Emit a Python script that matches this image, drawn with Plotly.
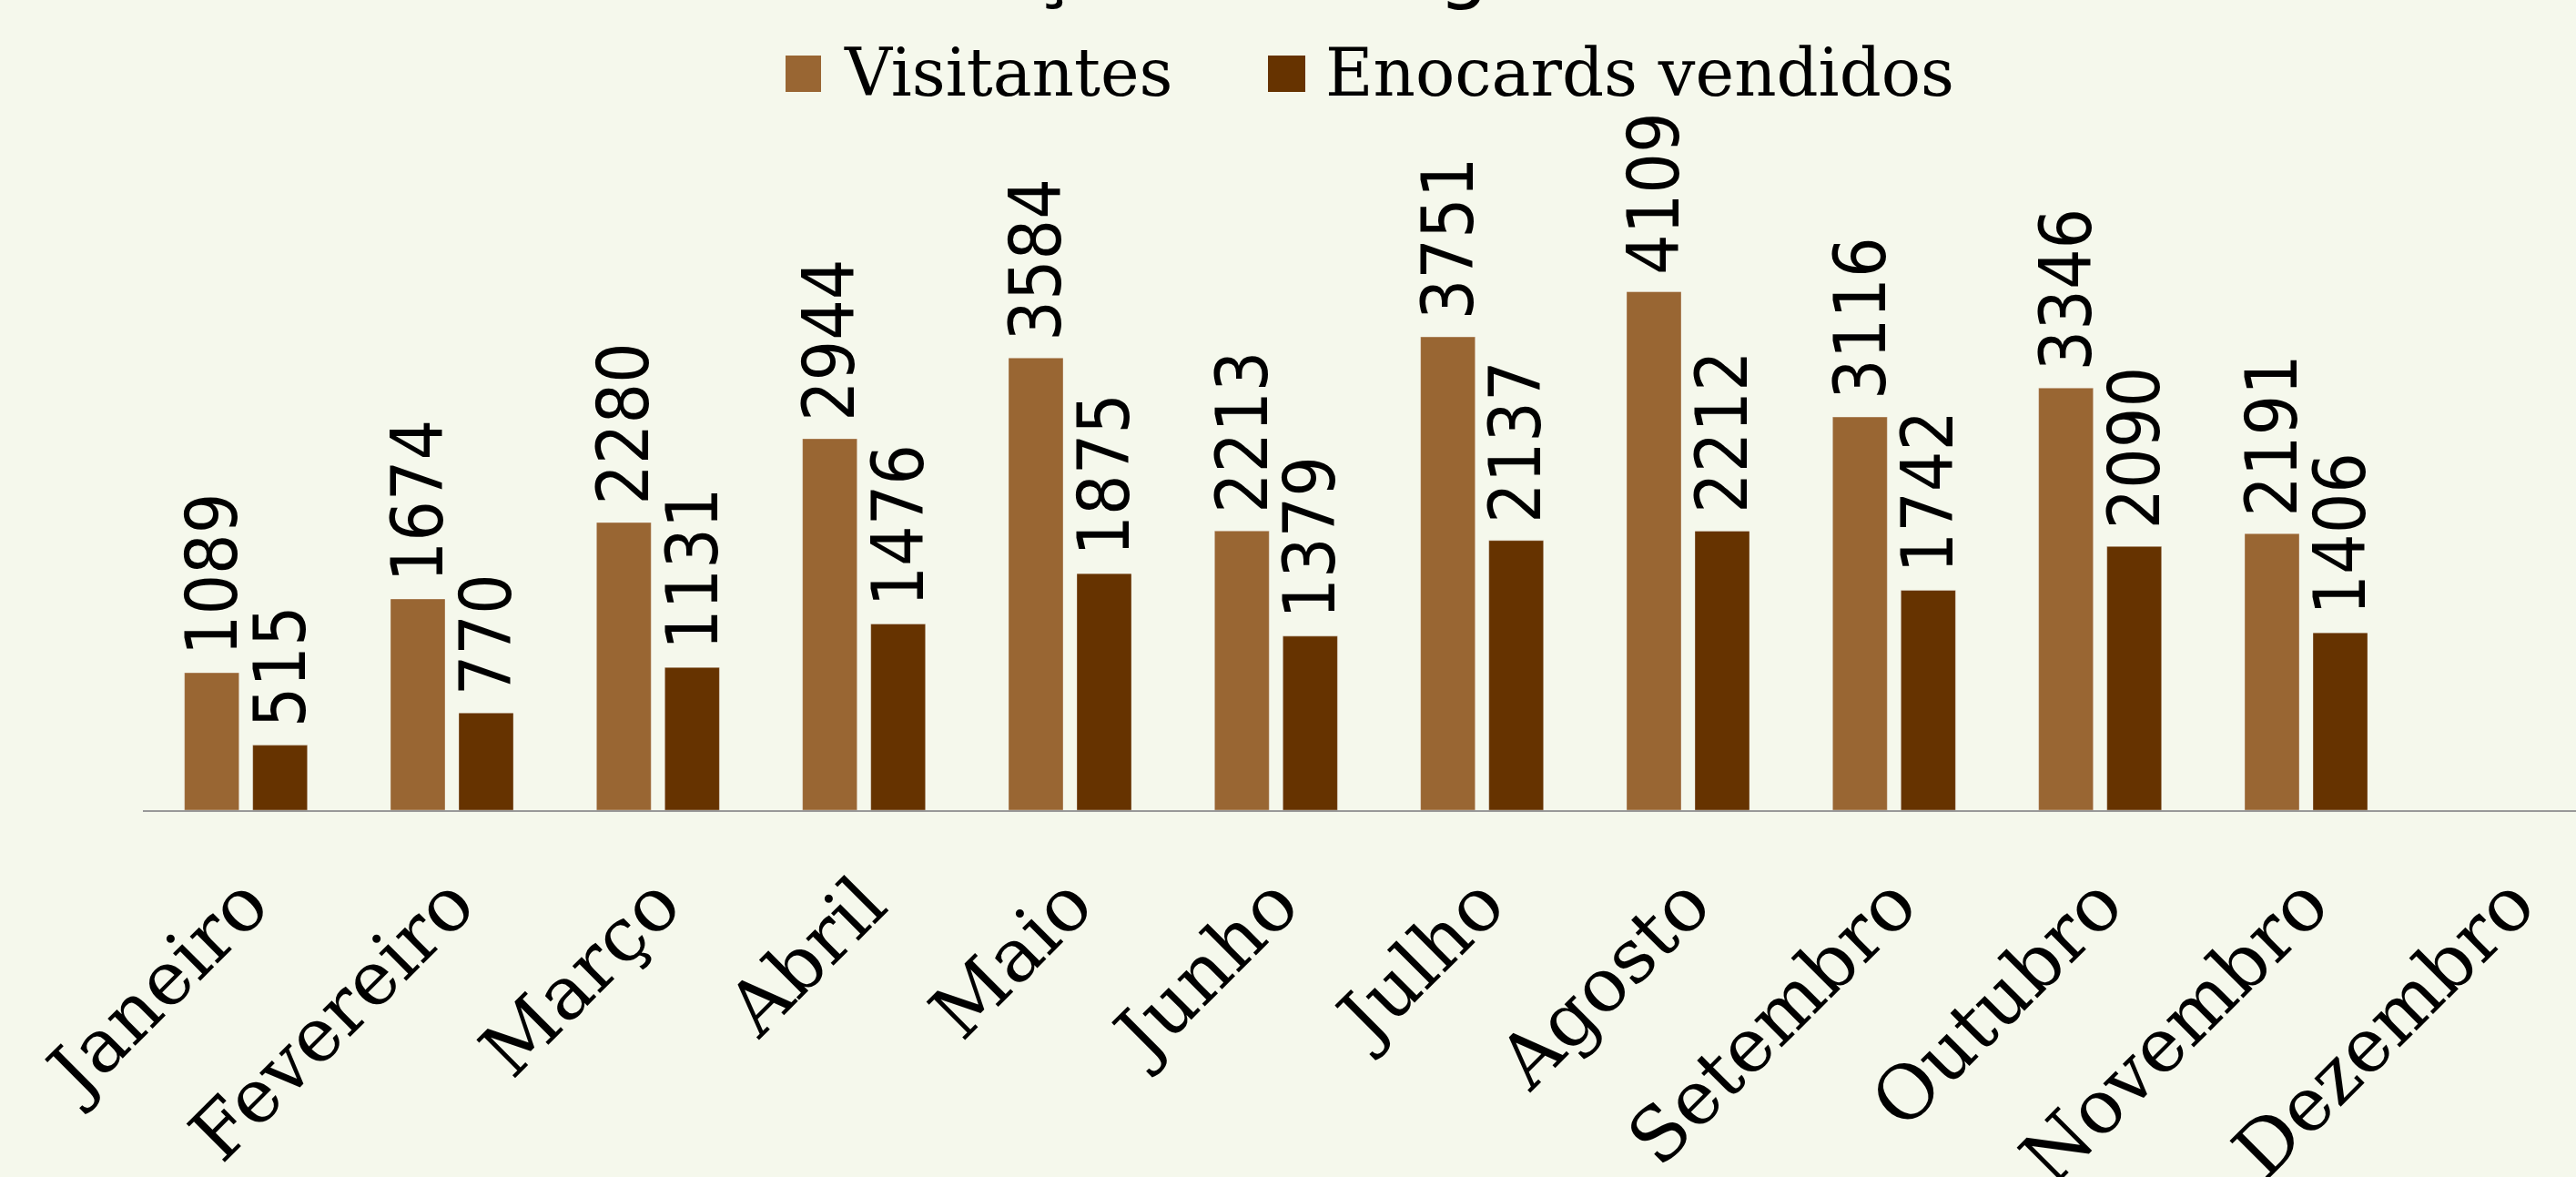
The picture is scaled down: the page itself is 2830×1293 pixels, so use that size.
import plotly.graph_objects as go

meses = ["Janeiro", "Fevereiro", "Março", "Abril", "Maio", "Junho", "Julho",
         "Agosto", "Setembro", "Outubro", "Novembro", "Dezembro"]
visitantes = [1089, 1674, 2280, 2944, 3584, 2213, 3751, 4109, 3116, 3346, 2191, None]
enocards = [515, 770, 1131, 1476, 1875, 1379, 2137, 2212, 1742, 2090, 1406, None]
series_names = ["Visitantes", "Enocards vendidos"]
series_colors = ["#996633", "#663300"]
titulo = "Evolução dos Ingressos e Enocards"

W, H = 2830, 1293
ML, MR, MT, MB = 157, 0, 100, 403
PW, PH = W - ML - MR, H - MT - MB
BG = "#F5F8EC"

def px_x(px):
    return (px - ML) / PW

def px_y(py):
    return (H - MB - py) / PH

fig = go.Figure()
for name, vals, col in zip(series_names, [visitantes, enocards], series_colors):
    fig.add_trace(go.Bar(
        x=meses, y=vals, name=name, marker_color=col,
        marker_line=dict(color="rgba(255,255,255,0.35)", width=1),
        showlegend=False,
    ))

# data labels (rotated) above each bar
slot = PW / 11.81 * (1 - 0.337) / 2
for k, vals in enumerate([visitantes, enocards]):
    shift = -slot / 2 if k == 0 else slot / 2
    for m, v in zip(meses, vals):
        if v is None:
            continue
        fig.add_annotation(
            x=m, y=v, xref="x", yref="y", text=str(v), showarrow=False,
            textangle=-90, xanchor="center", yanchor="bottom",
            xshift=shift, yshift=17,
            font=dict(family="DejaVu Sans Condensed", size=78, color="black"),
        )

# legend drawn manually (large swatches)
leg = [(863, 902, 926), (1393, 1434, 1455)]
for (x0, x1, tx), name, col in zip(leg, series_names, series_colors):
    fig.add_shape(type="rect", xref="paper", yref="paper",
                  x0=px_x(x0), x1=px_x(x1), y0=px_y(101), y1=px_y(61),
                  fillcolor=col, line=dict(width=0))
    fig.add_annotation(x=px_x(tx - 1), y=px_y(80), xref="paper", yref="paper",
                       text=name, showarrow=False, xanchor="left", yanchor="middle",
                       font=dict(family="DejaVu Serif", size=72, color="black"))

# title (mostly outside the visible page, as in the source)
fig.add_annotation(x=px_x(1659), y=px_y(16), xref="paper", yref="paper",
                   text=titulo, showarrow=False, xanchor="center", yanchor="bottom",
                   font=dict(family="DejaVu Sans", size=88, color="black"))

fig.update_layout(
    width=W, height=H,
    margin=dict(l=ML, r=MR, t=MT, b=MB, pad=0, autoexpand=False),
    paper_bgcolor=BG, plot_bgcolor=BG,
    barmode="group", bargap=0.337, bargroupgap=0.2,
    showlegend=False,
)
fig.update_xaxes(
    range=[-0.5, 11.31], showline=True, linecolor="#999999", linewidth=2,
    ticks="", tickangle=-45, ticklabelstandoff=20, automargin=False,
    tickfont=dict(family="DejaVu Serif", size=82, color="black"),
    showgrid=False, zeroline=False,
)
fig.update_yaxes(range=[0, PH / 0.1386], visible=False, showgrid=False,
                 zeroline=False, automargin=False)

fig.write_html("out.html", config={"displayModeBar": False},
               post_script="document.body.style.margin='0';document.body.style.background='" + BG + "';")
